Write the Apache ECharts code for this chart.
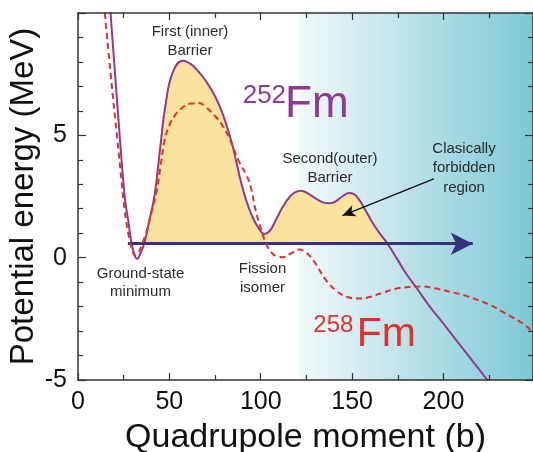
<!DOCTYPE html>
<html>
<head>
<meta charset="utf-8">
<script src="https://cdn.jsdelivr.net/npm/echarts@6/dist/echarts.min.js"></script>
<style>
html, body { margin: 0; padding: 0; background: #fff; }
#chart { width: 533px; height: 452px; }
</style>
</head>
<body>
<div id="chart"></div>
<script>
// potential energy vs quadrupole moment
var fm252 = [
  [17.0, 10.8], [19.5, 8.3], [22.9, 4.9], [25.6, 2.47], [27.5, 1.5], [29.3, 0.6],
  [31.0, 0.1], [32.3, -0.05], [33.8, 0.12], [36.2, 0.57], [39.0, 1.5], [42.0, 2.6],
  [45.0, 4.5], [48.0, 6.3], [52.0, 7.6], [57.4, 8.05], [62.0, 7.9], [66.0, 7.6],
  [70.2, 7.2], [75.0, 6.6], [79.2, 5.88], [83.8, 4.79], [86.5, 3.97], [89.0, 3.15],
  [92.0, 2.35], [95.0, 1.75], [98.5, 1.25], [102.0, 0.97], [105.0, 1.1], [108.0, 1.5],
  [112.0, 2.07], [116.0, 2.5], [119.0, 2.68], [122.0, 2.74], [126.0, 2.62], [130.0, 2.42],
  [134.0, 2.26], [137.4, 2.22], [141.0, 2.3], [145.0, 2.52], [148.3, 2.64], [151.0, 2.6],
  [154.0, 2.35], [157.4, 1.93], [161.0, 1.45], [165.0, 1.0], [169.4, 0.57], [175.0, -0.1],
  [180.0, -0.7], [185.6, -1.27], [192.0, -1.95], [200.0, -2.7], [212.0, -3.85], [224.0, -5.0],
  [226.0, -5.2]
];
var fm258 = [
  [14.2, 10.4], [18.0, 7.4], [21.6, 4.79], [23.8, 3.15], [25.6, 1.9], [27.5, 1.0],
  [29.5, 0.35], [31.3, 0.1], [33.0, 0.2], [35.0, 0.55], [37.0, 0.95], [40.0, 1.8],
  [43.0, 2.7], [45.6, 3.97], [47.4, 4.79], [50.0, 5.4], [52.9, 5.8], [57.4, 6.15],
  [62.0, 6.3], [66.0, 6.32], [70.0, 6.15], [75.6, 5.74], [79.5, 5.35], [82.9, 4.86],
  [88.0, 3.95], [92.0, 3.4], [94.5, 2.9], [97.0, 2.0], [100.0, 1.2], [103.0, 0.57],
  [106.0, 0.2], [109.0, 0.05], [112.0, 0.02], [116.0, 0.15], [121.0, 0.33], [125.0, 0.2],
  [130.0, -0.24], [135.0, -0.85], [141.0, -1.33], [147.0, -1.6], [154.0, -1.67], [160.0, -1.6],
  [166.5, -1.44], [174.0, -1.27], [181.0, -1.2], [188.0, -1.18], [195.0, -1.25], [205.0, -1.42],
  [212.0, -1.55], [219.0, -1.74], [226.0, -1.95], [232.0, -2.2], [238.0, -2.45], [244.7, -2.76],
  [249.0, -3.05]
];
var arrowY = 0.57;
var arrowFrom = 27.3, arrowTo = 216;
var fillFrom = 36.2, fillTo = 169.4;
var hintFrom = [194.7, 3.22], hintTo = [144.7, 1.72];
var shadeFrom = 121;
var xMax = 249, yMin = -5, yMax = 10;

var fillData = fm252.filter(function (p) { return p[0] >= fillFrom && p[0] <= fillTo; });

var chart = echarts.init(document.getElementById('chart'));
var font = 'Liberation Sans';
var axisCol = '#333';

function xAx(pos) {
  return {
    type: 'value', position: pos, min: 0, max: xMax, interval: 50, z: 10,
    name: pos === 'bottom' ? 'Quadrupole moment (b)' : '',
    nameLocation: 'middle', nameGap: 41,
    nameTextStyle: { fontFamily: font, fontSize: 34, color: '#111' },
    axisLine: { show: true, onZero: false, lineStyle: { color: axisCol, width: 1.5 } },
    axisTick: { show: true, inside: true, length: 7, lineStyle: { color: axisCol, width: 1.2 } },
    minorTick: { show: true, splitNumber: 2, length: 5, lineStyle: { color: axisCol, width: 1.2 } },
    axisLabel: { show: pos === 'bottom', showMaxLabel: false, margin: 10, fontFamily: font, fontSize: 25, color: '#111' },
    splitLine: { show: false }
  };
}
function yAx(pos) {
  return {
    type: 'value', position: pos, min: yMin, max: yMax, interval: 5, z: 10,
    name: pos === 'left' ? 'Potential energy (MeV)' : '',
    nameLocation: 'middle', nameGap: 38, nameMoveOverlap: false,
    nameTextStyle: { fontFamily: font, fontSize: 33, color: '#111' },
    axisLine: { show: true, onZero: false, lineStyle: { color: axisCol, width: 1.5 } },
    axisTick: { show: true, inside: true, length: 8, lineStyle: { color: axisCol, width: 1.2 } },
    minorTick: { show: true, splitNumber: 5, length: 5, lineStyle: { color: axisCol, width: 1.2 } },
    axisLabel: { show: pos === 'left', showMaxLabel: false, margin: 11, fontFamily: font, fontSize: 25, color: '#111' },
    splitLine: { show: false }
  };
}

function label(x, y, text, size, color, align, lh) {
  return {
    type: 'text', x: x, y: y, z: 20,
    style: {
      text: text, fill: color, align: align, verticalAlign: 'top',
      font: size + 'px "' + font + '"', lineHeight: lh || size
    }
  };
}

var option = {
  animation: false,
  backgroundColor: '#fff',
  grid: { left: 78, right: 0, top: 13, bottom: 72, outerBoundsMode: 'none' },
  xAxis: [xAx('bottom'), xAx('top')],
  yAxis: [yAx('left'), yAx('right')],
  series: [
    {
      // shaded region on the right
      type: 'line', data: [], z: 1, silent: true,
      markArea: {
        silent: true,
        itemStyle: {
          color: new echarts.graphic.LinearGradient(0, 0, 1, 0, [
            { offset: 0, color: '#f1f9fa' },
            { offset: 0.5, color: '#b8e0e7' },
            { offset: 1, color: '#7cc9d6' }
          ])
        },
        data: [[{ xAxis: shadeFrom }, { xAxis: xMax }]]
      }
    },
    {
      name: 'fill', type: 'line', data: fillData, smooth: 0.45, symbol: 'none', z: 2,
      lineStyle: { width: 0 },
      areaStyle: { color: '#fae39c', opacity: 1, origin: arrowY }
    },
    {
      name: '252Fm', type: 'line', data: fm252, smooth: 0.45, symbol: 'none', z: 3,
      lineStyle: { color: '#8e3a90', width: 2 }
    },
    {
      name: 'arrow', type: 'line', data: [], z: 4,
      markLine: {
        silent: true, symbol: ['none', 'arrow'], symbolSize: [17, 22],
        label: { show: false },
        lineStyle: { color: '#35327a', width: 3, type: 'solid' },
        data: [[{ coord: [arrowFrom, arrowY] }, { coord: [arrowTo, arrowY] }]]
      }
    },
    {
      name: '258Fm', type: 'line', data: fm258, smooth: 0.45, symbol: 'none', z: 5,
      lineStyle: { color: '#e0312e', width: 2, type: [6, 4] }
    },
    {
      name: 'hint', type: 'line', data: [], z: 6,
      markLine: {
        silent: true, symbol: ['none', 'arrow'], symbolSize: [9, 13],
        label: { show: false },
        lineStyle: { color: '#111', width: 1.5, type: 'solid' },
        data: [[{ coord: hintFrom }, { coord: hintTo }]]
      }
    }
  ],
  graphic: [
    label(190, 22, 'First (inner)\nBarrier', 15, '#2b2b2b', 'center', 19),
    label(330, 149, 'Second(outer)\nBarrier', 15, '#2b2b2b', 'center', 19),
    label(464, 139, 'Clasically\nforbidden\nregion', 15, '#2b2b2b', 'center', 19.5),
    label(140.5, 265, 'Ground-state\nminimum', 15, '#2b2b2b', 'center', 18),
    label(262.5, 259, 'Fission\nisomer', 15, '#2b2b2b', 'center', 19),
    label(242.7, 83, '252', 26, '#8e3a90', 'left'),
    label(285, 83, 'Fm', 44, '#8e3a90', 'left'),
    label(313.3, 313, '258', 24, '#e0312e', 'left'),
    label(356.7, 314, 'Fm', 41, '#e0312e', 'left')
  ]
};
chart.setOption(option);
</script>
</body>
</html>
